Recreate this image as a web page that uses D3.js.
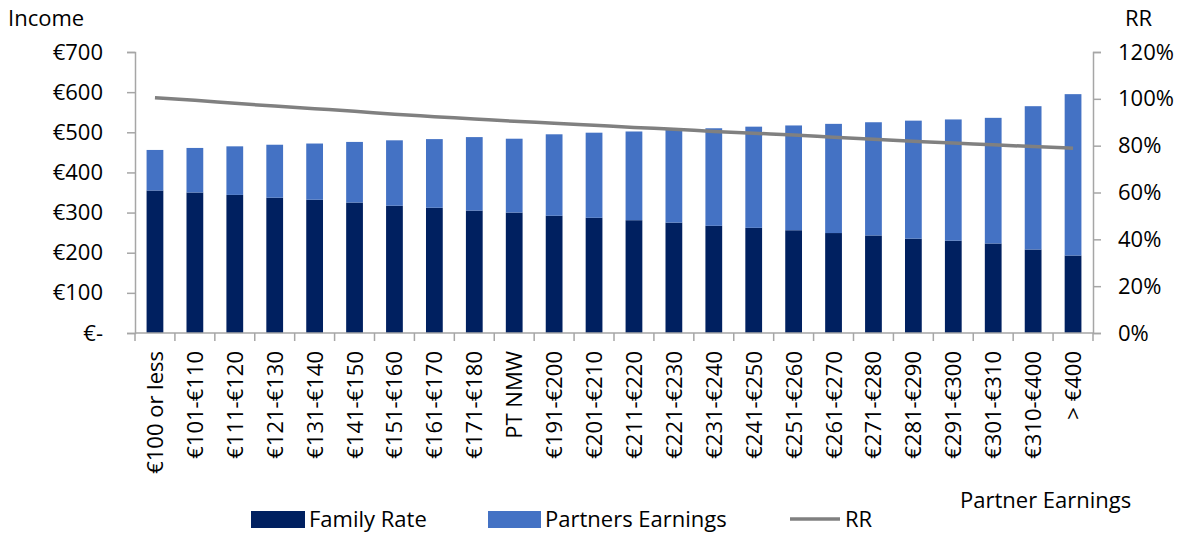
<!DOCTYPE html>
<html><head><meta charset="utf-8">
<script src="https://cdn.jsdelivr.net/npm/d3@7"></script>
<style>body{margin:0;background:#fff}text{font-family:"Open Sans",sans-serif;fill:#000}</style>
</head><body><svg id="c" width="1185" height="534"></svg>
<script>
const categories=["€100 or less","€101-€110","€111-€120","€121-€130","€131-€140","€141-€150","€151-€160","€161-€170","€171-€180","PT NMW","€191-€200","€201-€210","€211-€220","€221-€230","€231-€240","€241-€250","€251-€260","€261-€270","€271-€280","€281-€290","€291-€300","€301-€310","€310-€400","> €400"];
const familyRate=[355,350,344,337,332,325,317,312,305,300,292,287,281,275,267,262,256,249,243,235,230,223,208,193];
const partnersEarnings=[101,111,121,132,140,151,163,171,183,184,203,212,221,231,243,252,261,272,282,294,302,313,357,402];
const rr=[100.5,99.4,98.1,96.9,95.8,94.7,93.4,92.4,91.4,90.4,89.6,88.7,87.8,87.0,86.1,85.3,84.6,83.6,82.7,81.9,81.1,80.4,79.6,78.9];
const leftTicks=[0,100,200,300,400,500,600,700];
const rightTicks=[0,20,40,60,80,100,120];

const svg=d3.select("#c");
const L=135,R=1093,T=52,B=333;
const x=d3.scaleBand().domain(categories).range([L,R]).paddingInner(0.58).paddingOuter(0.29);
const xb=d3.scaleBand().domain(categories).range([L,R]);
const y=d3.scaleLinear().domain([0,700]).range([B,T]);
const y2=d3.scaleLinear().domain([0,120]).range([B,T]);
const axisColor="#a6a6a6";

// bars
const g=svg.append("g");
categories.forEach((c,i)=>{
  g.append("rect").attr("x",x(c)).attr("width",x.bandwidth())
    .attr("y",y(familyRate[i])).attr("height",y(0)-y(familyRate[i])).attr("fill","#002060");
  g.append("rect").attr("x",x(c)).attr("width",x.bandwidth())
    .attr("y",y(familyRate[i]+partnersEarnings[i])).attr("height",y(familyRate[i])-y(familyRate[i]+partnersEarnings[i])).attr("fill","#4472c4");
});

// left axis
const ga=svg.append("g").attr("transform",`translate(${L},0)`)
  .call(d3.axisLeft(y).tickValues(leftTicks).tickSize(8).tickPadding(24).tickFormat(d=>d===0?"€-":"€"+d));
ga.select(".domain").attr("stroke",axisColor).attr("stroke-width",1.5);
ga.selectAll(".tick line").attr("stroke",axisColor).attr("stroke-width",1.5);
ga.selectAll("text").style("font-size","22px").attr("fill","#000");

// right axis
const gr=svg.append("g").attr("transform",`translate(${R},0)`)
  .call(d3.axisRight(y2).tickValues(rightTicks).tickSize(8).tickPadding(17).tickFormat(d=>d+"%"));
gr.select(".domain").attr("stroke",axisColor).attr("stroke-width",1.5);
gr.selectAll(".tick line").attr("stroke",axisColor).attr("stroke-width",1.5);
gr.selectAll("text").style("font-size","22px").attr("fill","#000");

// x axis
const gx=svg.append("g").attr("transform",`translate(0,${B})`);
gx.append("line").attr("x1",L).attr("x2",R).attr("stroke",axisColor).attr("stroke-width",1.5);
categories.concat([null]).forEach((c,i)=>{
  const xx=i<categories.length?xb(c):R;
  gx.append("line").attr("x1",xx).attr("x2",xx).attr("y1",0).attr("y2",8).attr("stroke",axisColor).attr("stroke-width",1.5);
});
categories.forEach(c=>{
  const cx=xb(c)+xb.bandwidth()/2;
  gx.append("text").attr("transform",`translate(${cx+8},18) rotate(-90)`)
    .attr("text-anchor","end").style("font-size","22px").text(c);
});

// RR line
svg.append("path").datum(rr)
  .attr("d",d3.line().x((d,i)=>xb(categories[i])+xb.bandwidth()/2).y(d=>y2(d)).curve(d3.curveMonotoneX))
  .attr("fill","none").attr("stroke","#808080").attr("stroke-width",3.5);

// titles
svg.append("text").attr("x",8).attr("y",26).style("font-size","22px").text("Income");
svg.append("text").attr("x",1125).attr("y",26).style("font-size","22px").text("RR");
svg.append("text").attr("x",960).attr("y",508).style("font-size","22px").text("Partner Earnings");

// legend
const lg=svg.append("g");
lg.append("rect").attr("x",251).attr("y",511).attr("width",54).attr("height",17).attr("fill","#002060");
lg.append("text").attr("x",309).attr("y",527).style("font-size","22px").text("Family Rate");
lg.append("rect").attr("x",488).attr("y",511).attr("width",53).attr("height",17).attr("fill","#4472c4");
lg.append("text").attr("x",545).attr("y",527).style("font-size","22px").text("Partners Earnings");
lg.append("line").attr("x1",790).attr("x2",840).attr("y1",519).attr("y2",519).attr("stroke","#808080").attr("stroke-width",3.5);
lg.append("text").attr("x",845).attr("y",527).style("font-size","22px").text("RR");
</script></body></html>
